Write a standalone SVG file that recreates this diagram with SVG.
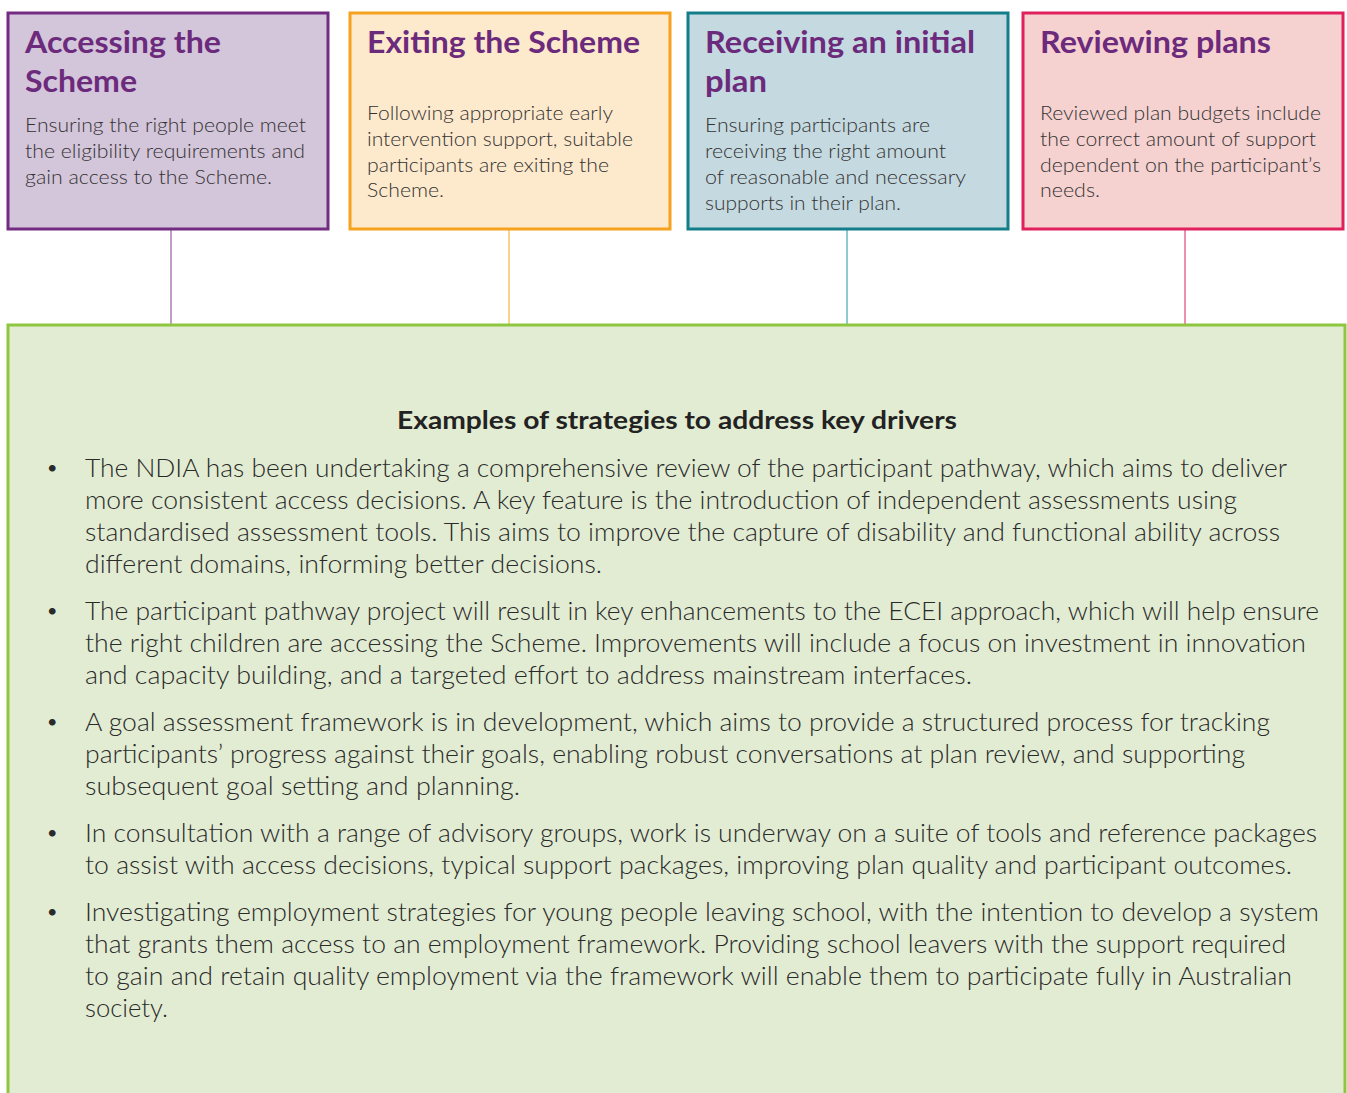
<svg xmlns="http://www.w3.org/2000/svg" width="1347" height="1093" viewBox="0 0 1347 1093">
<style>
.t{font-family:Lato,"Open Sans",sans-serif;font-weight:bold;font-size:30px;fill:#6c2a7c}
.b{font-family:Lato,"Open Sans",sans-serif;font-weight:300;font-size:20px;fill:#333333}
.h{font-family:Lato,"Open Sans",sans-serif;font-weight:bold;font-size:25px;fill:#222222}
.p{font-family:Lato,"Open Sans",sans-serif;font-weight:300;font-size:25px;fill:#2a2a2a}
.d{font-family:Lato,"Open Sans",sans-serif;font-size:18px;fill:#2a2a2a}
.c{stroke-width:2;fill:none}
</style>
<rect width="1347" height="1093" fill="#ffffff"/>
<g id="connectors">
<line class="c" x1="171" y1="230" x2="171" y2="325" stroke="#c39cc9"/>
<line class="c" x1="509" y1="230" x2="509" y2="325" stroke="#fcd08f"/>
<line class="c" x1="847" y1="230" x2="847" y2="325" stroke="#8ecad2"/>
<line class="c" x1="1185" y1="230" x2="1185" y2="325" stroke="#ee8eb3"/>
</g>
<g id="accessing">
<rect x="8" y="13" width="320" height="216" fill="#d3c5da" stroke="#732c82" stroke-width="3"/>
<text class="t" x="25" y="53" textLength="196" lengthAdjust="spacingAndGlyphs">Accessing the</text>
<text class="t" x="25" y="92" textLength="112" lengthAdjust="spacingAndGlyphs">Scheme</text>
<text class="b" x="25" y="132" textLength="281" lengthAdjust="spacingAndGlyphs">Ensuring the right people meet</text>
<text class="b" x="25" y="158" textLength="280" lengthAdjust="spacingAndGlyphs">the eligibility requirements and</text>
<text class="b" x="25" y="184" textLength="247" lengthAdjust="spacingAndGlyphs">gain access to the Scheme.</text>
</g>
<g id="exiting">
<rect x="350" y="13" width="320" height="216" fill="#fde9cc" stroke="#f6a21f" stroke-width="3"/>
<text class="t" x="367" y="53" textLength="273" lengthAdjust="spacingAndGlyphs">Exiting the Scheme</text>
<text class="b" x="367" y="120" textLength="246" lengthAdjust="spacingAndGlyphs">Following appropriate early</text>
<text class="b" x="367" y="146" textLength="266" lengthAdjust="spacingAndGlyphs">intervention support, suitable</text>
<text class="b" x="367" y="172" textLength="242" lengthAdjust="spacingAndGlyphs">participants are exiting the</text>
<text class="b" x="367" y="197" textLength="77" lengthAdjust="spacingAndGlyphs">Scheme.</text>
</g>
<g id="initial-plan">
<rect x="688" y="13" width="320" height="216" fill="#c5d9e0" stroke="#137e8a" stroke-width="3"/>
<text class="t" x="705" y="53" textLength="270" lengthAdjust="spacingAndGlyphs">Receiving an initial</text>
<text class="t" x="705" y="92" textLength="62" lengthAdjust="spacingAndGlyphs">plan</text>
<text class="b" x="705" y="132" textLength="225" lengthAdjust="spacingAndGlyphs">Ensuring participants are</text>
<text class="b" x="705" y="158" textLength="241" lengthAdjust="spacingAndGlyphs">receiving the right amount</text>
<text class="b" x="705" y="184" textLength="261" lengthAdjust="spacingAndGlyphs">of reasonable and necessary</text>
<text class="b" x="705" y="210" textLength="196" lengthAdjust="spacingAndGlyphs">supports in their plan.</text>
</g>
<g id="reviewing">
<rect x="1023" y="13" width="320" height="216" fill="#f5d1d0" stroke="#e0215e" stroke-width="3"/>
<text class="t" x="1040" y="53" textLength="231" lengthAdjust="spacingAndGlyphs">Reviewing plans</text>
<text class="b" x="1040" y="120" textLength="281" lengthAdjust="spacingAndGlyphs">Reviewed plan budgets include</text>
<text class="b" x="1040" y="146" textLength="276" lengthAdjust="spacingAndGlyphs">the correct amount of support</text>
<text class="b" x="1040" y="172" textLength="281" lengthAdjust="spacingAndGlyphs">dependent on the participant’s</text>
<text class="b" x="1040" y="197" textLength="60" lengthAdjust="spacingAndGlyphs">needs.</text>
</g>
<g id="strategies">
<rect x="8" y="325" width="1337" height="790" fill="#e2ecd3" stroke="#8dc63f" stroke-width="3"/>
<text class="h" x="397" y="429" textLength="560" lengthAdjust="spacingAndGlyphs">Examples of strategies to address key drivers</text>
<text class="d" x="47" y="474">•</text>
<text class="p" x="85" y="477" textLength="1202" lengthAdjust="spacingAndGlyphs">The NDIA has been undertaking a comprehensive review of the participant pathway, which aims to deliver</text>
<text class="p" x="85" y="509" textLength="1152" lengthAdjust="spacingAndGlyphs">more consistent access decisions. A key feature is the introduction of independent assessments using</text>
<text class="p" x="85" y="541" textLength="1195" lengthAdjust="spacingAndGlyphs">standardised assessment tools. This aims to improve the capture of disability and functional ability across</text>
<text class="p" x="85" y="573" textLength="517" lengthAdjust="spacingAndGlyphs">different domains, informing better decisions.</text>
<text class="d" x="47" y="617">•</text>
<text class="p" x="85" y="620" textLength="1234" lengthAdjust="spacingAndGlyphs">The participant pathway project will result in key enhancements to the ECEI approach, which will help ensure</text>
<text class="p" x="85" y="652" textLength="1221" lengthAdjust="spacingAndGlyphs">the right children are accessing the Scheme. Improvements will include a focus on investment in innovation</text>
<text class="p" x="85" y="684" textLength="887" lengthAdjust="spacingAndGlyphs">and capacity building, and a targeted effort to address mainstream interfaces.</text>
<text class="d" x="47" y="728">•</text>
<text class="p" x="85" y="731" textLength="1185" lengthAdjust="spacingAndGlyphs">A goal assessment framework is in development, which aims to provide a structured process for tracking</text>
<text class="p" x="85" y="763" textLength="1160" lengthAdjust="spacingAndGlyphs">participants’ progress against their goals, enabling robust conversations at plan review, and supporting</text>
<text class="p" x="85" y="795" textLength="435" lengthAdjust="spacingAndGlyphs">subsequent goal setting and planning.</text>
<text class="d" x="47" y="839">•</text>
<text class="p" x="85" y="842" textLength="1232" lengthAdjust="spacingAndGlyphs">In consultation with a range of advisory groups, work is underway on a suite of tools and reference packages</text>
<text class="p" x="85" y="874" textLength="1207" lengthAdjust="spacingAndGlyphs">to assist with access decisions, typical support packages, improving plan quality and participant outcomes.</text>
<text class="d" x="47" y="918">•</text>
<text class="p" x="85" y="921" textLength="1234" lengthAdjust="spacingAndGlyphs">Investigating employment strategies for young people leaving school, with the intention to develop a system</text>
<text class="p" x="85" y="953" textLength="1201" lengthAdjust="spacingAndGlyphs">that grants them access to an employment framework. Providing school leavers with the support required</text>
<text class="p" x="85" y="985" textLength="1207" lengthAdjust="spacingAndGlyphs">to gain and retain quality employment via the framework will enable them to participate fully in Australian</text>
<text class="p" x="85" y="1017" textLength="83" lengthAdjust="spacingAndGlyphs">society.</text>
</g>
</svg>
